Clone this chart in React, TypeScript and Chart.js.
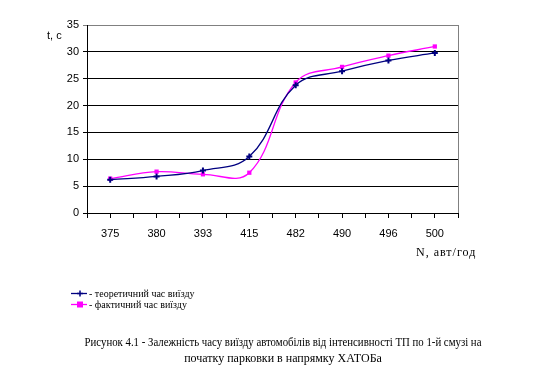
import React, { useEffect, useRef } from "react";
import { Chart, registerables } from "chart.js";
Chart.register(...registerables);

const categories = ["375", "380", "393", "415", "482", "490", "496", "500"];
const theoretical = [6.2, 6.8, 7.9, 10.5, 23.8, 26.4, 28.4, 29.8];
const actual = [6.4, 7.7, 7.2, 7.5, 24.3, 27.2, 29.3, 31.0];
const yMin = 0;
const yMax = 35;
const yStep = 5;
const seriesNames = ["- теоретичний час виїзду", "- фактичний час виїзду"];
const yTitle = "t, c";
const xTitle = "N, авт/год";
const captionLines = [
  "Рисунок 4.1 - Залежність часу виїзду автомобілів від інтенсивності ТП по 1-й смузі на",
  "початку парковки в напрямку ХАТОБа",
];

const NAVY = "#000080";
const MAGENTA = "#FF00FF";

const framePlugin = {
  id: "frame",
  beforeDatasetsDraw(chart: any) {
    const { ctx, chartArea: a } = chart;
    ctx.save();
    ctx.strokeStyle = "#808080";
    ctx.lineWidth = 1;
    ctx.beginPath();
    const x = Math.round(a.right) + 0.5;
    ctx.moveTo(x, a.top);
    ctx.lineTo(x, a.bottom);
    ctx.stroke();
    ctx.restore();
  },
};

export default function App() {
  const ref = useRef<HTMLCanvasElement>(null);
  useEffect(() => {
    if (!ref.current) return;
    const chart = new Chart(ref.current, {
      type: "line",
      data: {
        datasets: [
          {
            label: seriesNames[0],
            data: theoretical.map((y, i) => ({ x: i, y })),
            borderColor: NAVY,
            backgroundColor: NAVY,
            borderWidth: 1.3,
            tension: 0.4,
            pointStyle: "cross",
            pointRadius: 3,
            pointBorderWidth: 2,
            pointBorderColor: NAVY,
          },
          {
            label: seriesNames[1],
            data: actual.map((y, i) => ({ x: i, y })),
            borderColor: MAGENTA,
            backgroundColor: MAGENTA,
            borderWidth: 1.3,
            tension: 0.4,
            pointStyle: "rect",
            pointRadius: 3,
            pointBorderWidth: 0,
          },
        ],
      },
      options: {
        animation: false,
        responsive: false,
        layout: { padding: { top: 25, right: 76, left: 0, bottom: 0 } },
        plugins: { legend: { display: false }, tooltip: { enabled: false } },
        scales: {
          x: {
            type: "linear",
            min: -0.5,
            max: 7.5,
            afterFit: (s: any) => {
              s.height = 163;
            },
            ticks: {
              stepSize: 0.5,
              autoSkip: false,
              maxRotation: 0,
              padding: 9,
              color: "#000",
              font: { family: "Liberation Sans", size: 11 },
              callback: (v: any) =>
                Number.isInteger(v) ? categories[v] : "",
            },
            grid: {
              drawOnChartArea: false,
              tickLength: 5,
              color: "#000",
            },
            border: { color: "#000" },
          },
          y: {
            min: yMin,
            max: yMax,
            afterFit: (s: any) => {
              s.width = 87;
            },
            ticks: {
              stepSize: yStep,
              padding: 4,
              color: "#000",
              font: { family: "Liberation Sans", size: 11 },
            },
            grid: {
              drawTicks: true,
              tickLength: 4,
              color: (c: any) => (c.tick && c.tick.value === yMax ? "#808080" : "#000"),
            },
            border: { color: "#000" },
          },
        },
      },
      plugins: [framePlugin],
    });
    return () => chart.destroy();
  }, []);

  const serif = "'Liberation Serif', 'Times New Roman', serif";
  return (
    <div
      style={{
        position: "absolute",
        left: 0,
        top: 0,
        width: 534,
        height: 376,
        background: "#fff",
        overflow: "hidden",
      }}
    >
      <canvas ref={ref} width={534} height={376} style={{ position: "absolute", left: 0, top: 0 }} />
      <div
        style={{
          position: "absolute",
          left: 47,
          top: 29,
          font: "11px 'Liberation Sans', Arial, sans-serif",
          color: "#000",
        }}
      >
        {yTitle}
      </div>
      <div
        style={{
          position: "absolute",
          left: 416,
          top: 245,
          font: `12px ${serif}`,
          letterSpacing: "1px",
          color: "#000",
          whiteSpace: "nowrap",
        }}
      >
        {xTitle}
      </div>
      {[0, 1].map((i) => (
        <div
          key={i}
          style={{
            position: "absolute",
            left: 71,
            top: 288 + i * 11,
            height: 11,
            display: "flex",
            alignItems: "center",
            font: `10px ${serif}`,
            color: "#000",
            whiteSpace: "nowrap",
          }}
        >
          <svg width={17} height={11} style={{ marginRight: 1 }}>
            <line x1={0} y1={5.5} x2={16} y2={5.5} stroke={i === 0 ? NAVY : MAGENTA} strokeWidth={1.3} />
            {i === 0 ? (
              <g stroke={NAVY} strokeWidth={1.5}>
                <line x1={9} y1={2.5} x2={9} y2={8.5} />
                <line x1={6} y1={5.5} x2={12} y2={5.5} />
              </g>
            ) : (
              <rect x={6} y={2.5} width={6} height={6} fill={MAGENTA} />
            )}
          </svg>
          <span>{seriesNames[i]}</span>
        </div>
      ))}
      <div
        style={{
          position: "absolute",
          left: 0,
          width: 566,
          top: 334,
          textAlign: "center",
          font: `12px ${serif}`,
          lineHeight: "16px",
          color: "#000",
          whiteSpace: "nowrap",
        }}
      >
        <div style={{ transform: "scaleX(0.9)" }}>{captionLines[0]}</div>
        <div>{captionLines[1]}</div>
      </div>
    </div>
  );
}
